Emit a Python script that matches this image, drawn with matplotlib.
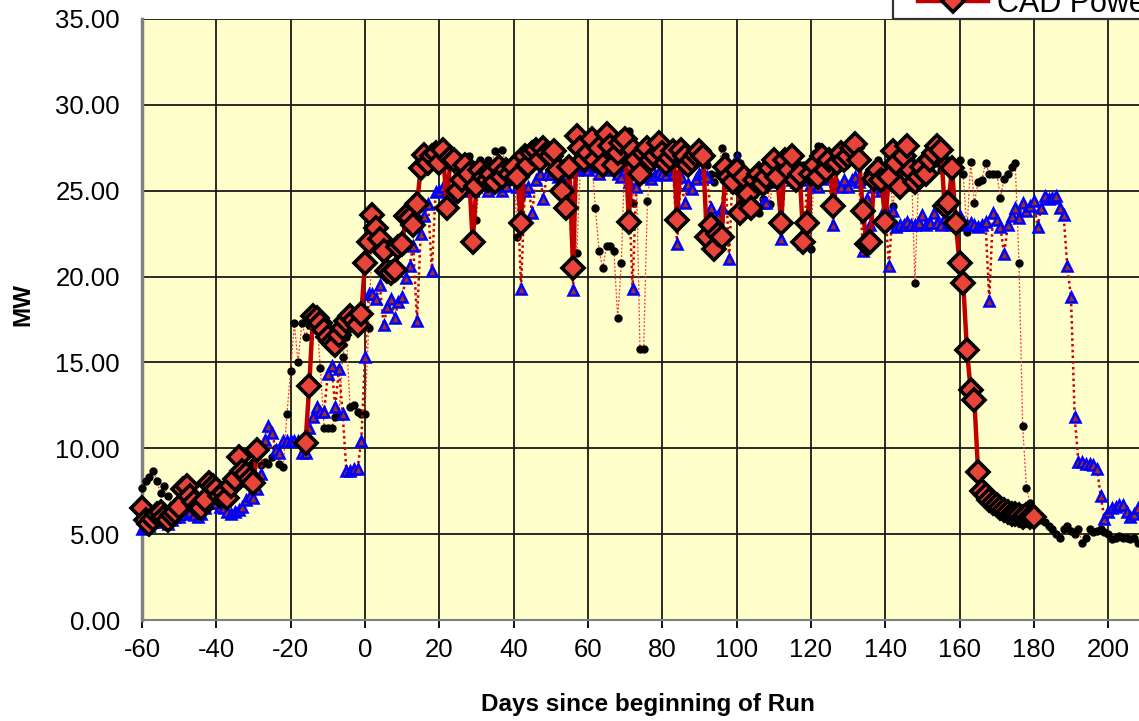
import numpy as np
import matplotlib.pyplot as plt
from matplotlib.patches import Rectangle
from matplotlib.ticker import FormatStrFormatter

plt.rcParams['font.family'] = ['Liberation Sans', 'DejaVu Sans']
plt.rcParams['axes.unicode_minus'] = False

nan = np.nan

# --- data: MW per day, first value is day -60 ---
# black dots (thin dotted line)
dots_mw = [
    7.7, 8.1, 8.3, 8.7, 8.1, 7.4, 7.8, 7.2, 6.7, 6.5,
    6.3, 6.0, 6.2, 6.5, 6.8, 6.4, 6.2, 6.6, 7.0, 7.5,
    7.8, 7.6, 7.3, 7.0, 7.4, 7.8, 8.2, 8.0, 8.5, 9.0,
    9.2, 9.5, 9.0, 9.2, 9.1, 9.5, 10.0, 9.1, 8.9, 12.0,
    14.5, 17.3, 15.0, 17.3, 16.5, 17.2, 17.0, 17.5, 14.7, 11.2,
    11.2, 11.2, 11.8, 11.9, 15.3, 16.5, 12.4, 12.5, 12.1, 12.0,
    12.0, 17.0, 22.5, 23.5, 22.0, 21.0, 20.5, 20.3, 20.0, 21.5,
    22.0, 23.0, 24.0, 23.5, 24.5, 26.8, 27.3, 27.0, 27.2, 27.5,
    27.0, 27.5, 26.5, 27.3, 27.0, 26.5, 26.8, 26.5, 27.0, 26.5,
    23.3, 26.8, 26.5, 26.8, 26.5, 27.3, 26.8, 27.4, 26.2, 26.5,
    26.8, 22.3, 24.6, 26.8, 26.5, 27.3, 26.8, 27.0, 27.5, 27.3,
    27.0, 26.5, 26.8, 26.0, 25.5, 26.8, 26.0, 21.4, 26.5, 26.8,
    26.5, 27.0, 24.0, 21.5, 20.5, 21.8, 21.8, 21.5, 17.6, 20.8,
    27.5, 28.5, 24.3, 26.5, 15.8, 15.8, 24.4, 26.5, 27.0, 26.8,
    27.2, 26.8, 27.0, 26.5, 26.0, 27.0, 26.8, 26.5, 26.7, 27.0,
    26.8, 27.2, 26.5, 26.0, 25.5, 26.0, 27.5, 27.0, 26.5, 26.3,
    27.1, 26.6, 26.0, 25.8, 25.5, 26.0, 23.7, 24.5, 25.8, 24.2,
    26.0, 26.3, 26.5, 26.0, 26.3, 26.5, 26.0, 26.2, 26.5, 26.0,
    21.6, 27.2, 27.6, 27.0, 26.5, 26.8, 26.6, 26.8, 27.0, 26.5,
    26.8, 27.0, 27.3, 26.5, 25.5, 26.0, 25.8, 26.3, 26.8, 26.5,
    26.0, 26.5, 24.1, 25.5, 26.8, 26.2, 26.5, 26.8, 19.6, 26.0,
    26.5, 26.8, 26.3, 27.0, 26.6, 26.2, 26.5, 26.8, 26.6, 26.3,
    26.8, 26.0, 22.6, 26.7, 24.3, 25.5, 25.6, 26.6, 26.0, 26.0,
    26.0, 24.6, 25.7, 26.0, 26.4, 26.6, 20.8, 11.3, 7.7, 6.8,
    6.2, 6.0, 5.8, 5.7, 5.5, 5.3, 5.0, 4.8, 5.3, 5.5,
    5.2, 5.0, 5.3, 4.5, 4.8, 5.3, 5.1, 5.2, 5.3, 5.1,
    5.0, 4.7, 4.8, 4.9, 4.8, 4.8, 4.7, 4.8, 4.5,
]

# blue triangles (heavier dotted line)
tri_mw = [
    5.3, 5.4, 5.5, 5.7, 5.8, 5.9, 5.7, 5.6, 5.8, 6.0,
    6.0, 6.2, 6.5, 6.3, 6.1, 6.0, 6.2, 6.5, 6.8, 7.0,
    6.8, 6.6, 6.5, 6.3, 6.2, 6.3, 6.4, 6.6, 7.0, 7.2,
    7.1, 7.6, 8.5, 10.5, 11.3, 10.9, 9.9, 9.7, 10.4, 10.4,
    10.4, 10.4, 10.4, 9.7, 9.7, 11.2, 11.8, 12.4, 12.1, 12.1,
    14.3, 14.8, 12.4, 14.6, 12.0, 8.7, 8.7, 8.8, 8.8, 10.4,
    15.3, 19.0, 19.0, 18.7, 19.5, 17.2, 18.2, 18.7, 17.6, 18.5,
    18.8, 19.9, 20.6, 21.8, 17.4, 22.5, 23.5, 24.2, 20.3, 24.9,
    25.0, 25.2, 25.0, 24.6, 25.2, 25.8, 25.0, 25.4, 25.6, 25.0,
    25.2, 25.4, 25.8, 25.0, 25.6, 25.8, 25.5, 25.0, 25.3, 25.7,
    25.8, 25.2, 19.3, 25.0, 25.2, 23.7, 25.6, 26.0, 24.5, 26.0,
    26.0, 26.2, 25.8, 25.6, 25.0, 25.2, 19.2, 26.2, 26.5, 26.4,
    26.2, 26.5, 26.4, 26.0, 26.3, 26.6, 26.2, 26.5, 26.0, 25.8,
    26.2, 25.5, 19.3, 25.2, 26.0, 25.8, 26.0, 25.7, 25.9, 26.1,
    26.0, 25.9, 26.2, 26.0, 21.9, 25.8, 24.3, 25.4, 25.1, 25.7,
    26.0, 26.1, 25.8, 24.0, 22.5, 23.5, 24.0, 26.2, 21.0, 26.5,
    26.8, 26.2, 25.4, 24.8, 25.0, 25.2, 26.0, 24.3, 24.3, 25.6,
    26.0, 25.5, 22.2, 25.8, 26.0, 25.6, 25.5, 25.8, 21.9, 25.6,
    25.4, 25.8, 25.2, 25.7, 26.0, 25.8, 23.0, 25.4, 25.2, 25.6,
    25.2, 25.6, 25.8, 25.5, 21.5, 24.5, 23.0, 25.2, 25.6, 25.0,
    24.0, 20.6, 23.8, 22.9, 23.0, 23.0, 23.2, 23.0, 23.0, 23.1,
    23.6, 23.0, 23.1, 23.7, 23.1, 23.0, 23.4, 23.2, 23.0, 23.1,
    23.5, 23.2, 23.0, 23.1, 23.0, 22.9, 23.0, 23.2, 18.6, 23.7,
    23.3, 22.9, 21.3, 23.0, 23.5, 24.0, 23.4, 24.3, 23.8, 24.1,
    24.4, 22.9, 24.0, 24.7, 24.5, 24.6, 24.7, 24.0, 23.6, 20.6,
    18.8, 11.8, 9.2, 9.2, 9.1, 9.1, 9.0, 8.8, 7.2, 5.9,
    6.3, 6.5, 6.6, 6.7, 6.7, 6.3, 6.0, 6.2, 6.5,
]

# CAD Power (diamonds, thick line)
cad_mw = [
    6.5, 5.8, 5.6, 5.9, 6.2, 6.3, 6.0, 5.8, 6.1, 6.3,
    6.6, 7.6, 7.8, 7.2, 6.9, 6.6, 6.5, 7.0, 8.0, 7.8,
    7.6, 7.2, 7.4, 7.1, 7.8, 8.2, 9.5, 8.7, 8.5, 8.2,
    8.0, 9.9, nan, nan, nan, nan, nan, nan, nan, nan,
    nan, nan, nan, nan, 10.3, 13.6, 17.7, 17.6, 17.3, 16.9,
    16.5, 16.2, 16.0, 16.6, 17.0, 17.4, 17.7, 17.5, 17.2, 17.8,
    20.8, 22.0, 23.6, 22.8, 22.2, 21.5, 20.3, 20.2, 20.4, 21.7,
    21.9, 23.5, 23.4, 23.0, 24.2, 26.3, 27.1, 26.6, 27.0, 27.2,
    26.6, 27.4, 24.0, 26.9, 26.8, 25.0, 25.6, 26.5, 26.0, 22.0,
    25.3, 26.2, 25.8, 25.6, 26.0, 25.5, 26.4, 25.8, 26.2, 26.0,
    26.4, 25.8, 23.1, 27.0, 26.5, 27.2, 27.4, 26.8, 27.5, 27.2,
    27.0, 27.3, 26.2, 25.0, 24.0, 26.4, 20.5, 28.2, 27.5, 26.8,
    27.2, 28.0, 26.8, 27.5, 26.5, 28.3, 27.6, 26.5, 27.2, 27.8,
    28.0, 23.2, 27.4, 26.8, 26.0, 27.2, 27.5, 26.8, 27.0, 27.8,
    27.2, 26.6, 26.9, 27.3, 23.3, 27.4, 27.0, 26.5, 26.8, 27.1,
    27.3, 27.0, 22.3, 23.0, 21.6, 22.5, 22.3, 26.4, 25.8, 25.5,
    26.2, 23.7, 25.8, 24.8, 24.0, 25.6, 26.0, 25.4, 25.8, 26.3,
    26.8, 25.8, 23.1, 26.8, 26.2, 27.0, 25.6, 26.0, 22.0, 23.1,
    26.0, 26.5, 25.8, 27.0, 26.2, 26.8, 24.1, 26.6, 27.2, 26.8,
    27.0, 27.5, 27.7, 26.8, 23.8, 21.9, 22.0, 25.7, 26.2, 25.6,
    23.2, 25.8, 27.3, 26.6, 25.2, 27.0, 27.6, 26.2, 25.5, 25.8,
    26.4, 26.0, 26.8, 27.2, 27.6, 27.4, 24.1, 24.3, 26.3, 23.1,
    20.8, 19.6, 15.7, 13.4, 12.8, 8.6, 7.5, 7.3, 7.0, 6.8,
    6.7, 6.5, 6.4, 6.3, 6.2, 6.2, 6.1, 6.0, 6.1, 6.0,
    6.0,
]

days_dots = np.arange(-60, -60 + len(dots_mw))
days_tri = np.arange(-60, -60 + len(tri_mw))
days_cad = np.arange(-60, -60 + len(cad_mw))

W, H = 1139, 721
fig = plt.figure(figsize=(W / 100, H / 100), dpi=100)
ax = fig.add_axes([142 / W, 1 - 620 / H, 1 - 142 / W, 601 / H])
ax.set_facecolor('#ffffcc')

ax.plot(days_dots, dots_mw, color='#ff3030', lw=0.9, ls=(0, (1.5, 1.5)),
        marker='o', ms=5, mfc='black', mec='black', zorder=3, clip_on=False)
ax.plot(days_tri, tri_mw, color='#cc0000', lw=1.8, ls=(0, (1, 1.3)),
        marker='^', ms=7.5, mfc='#a03020', mec='#0000ff', mew=1.8, zorder=4, clip_on=False)
cad_line, = ax.plot(days_cad, cad_mw, color='#c00000', lw=3.2, ls='-',
                    marker='D', ms=11.5, mfc='#e8443a', mec='black', mew=2.6,
                    zorder=5, clip_on=False, label='CAD Power')

ax.set_xlim(-60, -60 + 997 / 3.716)
ax.set_ylim(0, 35)
ax.set_xticks(range(-60, 201, 20))
ax.set_yticks(np.arange(0, 35.1, 5))
ax.yaxis.set_major_formatter(FormatStrFormatter('%.2f'))
ax.grid(True, color='#1a1a1a', lw=1.3)
ax.set_axisbelow(True)

for s in ['top', 'right']:
    ax.spines[s].set_visible(False)
ax.spines['left'].set_color('#808080')
ax.spines['left'].set_linewidth(2.5)
ax.spines['bottom'].set_color('#808080')
ax.spines['bottom'].set_linewidth(1.5)

ax.tick_params(axis='x', direction='out', length=6, width=1.3, color='black',
               labelsize=18.5, pad=7)
ax.tick_params(axis='y', length=0, labelsize=18.5, pad=16)

ax.set_xlabel('Days since beginning of Run', fontsize=17.5, fontweight='bold')
ax.xaxis.set_label_coords((648 - 142) / 997, (620 - 693) / 601)
ax.set_ylabel('MW', fontsize=17.5, fontweight='bold')
ax.yaxis.set_label_coords((34 - 142) / 997, (620 - 305) / 601)

# legend box, mostly cut off at the top right
fig.add_artist(Rectangle((893 / W, 1 - 19 / H), 0.3, 0.1, transform=fig.transFigure,
                         fc='white', ec='#333333', lw=1.6, clip_on=False, zorder=1))
fig.legend(handles=[cad_line], labels=['CAD Power'], loc='lower left',
           bbox_to_anchor=(918 / W, 1 - 19 / H), frameon=False, fontsize=22,
           borderpad=0, borderaxespad=0, handlelength=2.3, handletextpad=0.3,
           numpoints=1)

fig.savefig('out.png', dpi=100)
